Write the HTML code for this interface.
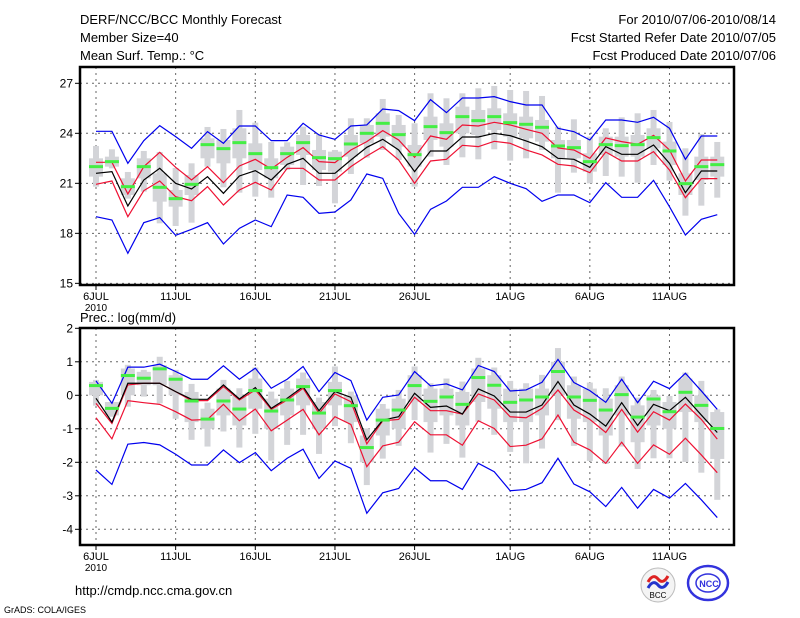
<!DOCTYPE html>
<html><head><meta charset="utf-8"><style>
body{margin:0;background:#fff}
svg{display:block}
text{font-family:"Liberation Sans",sans-serif;fill:#000}
</style></head><body>
<svg id="c" width="800" height="618" xmlns="http://www.w3.org/2000/svg">
<text x="80" y="24" font-size="13">DERF/NCC/BCC Monthly Forecast</text>
<text x="80" y="42" font-size="13">Member Size=40</text>
<text x="80" y="60" font-size="13">Mean Surf. Temp.: °C</text>
<text x="776" y="24" font-size="13" text-anchor="end">For 2010/07/06-2010/08/14</text>
<text x="776" y="42" font-size="13" text-anchor="end">Fcst Started Refer Date 2010/07/05</text>
<text x="776" y="60" font-size="13" text-anchor="end">Fcst Produced Date 2010/07/06</text>
<text x="80" y="322" font-size="13">Prec.: log(mm/d)</text>
<text x="75" y="595" font-size="13">http://cmdp.ncc.cma.gov.cn</text>
<text x="4" y="613" font-size="9">GrADS: COLA/IGES</text>
<g>
<circle cx="658" cy="585" r="17" fill="#f4f4f4" stroke="#bbb"/>
<path d="M648 582 q5 -9 10 -3 q5 6 10 -3" stroke="#d22" stroke-width="3" fill="none"/>
<path d="M648 588 q5 -9 10 -3 q5 6 10 -3" stroke="#23c" stroke-width="3" fill="none"/>
<text x="658" y="598" font-size="8" text-anchor="middle" font-family="Liberation Serif">BCC</text>
</g>
<g>
<ellipse cx="708" cy="583" rx="20" ry="17" fill="none" stroke="#33d" stroke-width="2.5"/>
<ellipse cx="708" cy="583" rx="12" ry="9" fill="none" stroke="#33d" stroke-width="1.5"/>
<text x="709" y="587" font-size="9" text-anchor="middle" font-weight="bold" style="fill:#33d">NCC</text>
</g>
</svg>
<script>
const days=["6JUL","11JUL","16JUL","21JUL","26JUL","1AUG","6AUG","11AUG"];
const dayIdx=[0,5,10,15,20,26,31,36];
const tTicks=[15,18,21,24,27];
const pTicks=[-4,-3,-2,-1,0,1,2];
const tBlueHi=[24.12,24.12,22.2,23.56,24.46,23.8,23.1,24.1,23.4,24.44,24.44,23.56,23.56,24.6,23.9,23.64,24.44,24.5,25.46,25.36,24.76,26.02,25.24,26.12,26.12,26.2,25.9,25.7,25.7,24.3,24.1,23.6,24.8,24.8,24.66,24.96,24.3,22.44,23.84,23.84];
const tBlueLo=[19.0,18.8,16.8,18.64,18.94,17.88,18.24,18.64,17.36,18.3,18.8,18.4,20.3,20.16,19.2,19.28,20.0,21.56,21.3,19.2,17.94,19.44,19.94,20.76,20.76,21.4,21.0,20.68,19.92,20.3,20.3,19.84,21.04,20.16,20.16,21.18,19.6,17.9,18.84,19.12];
const tRedHi=[22.26,22.26,20.36,22.0,22.86,21.96,21.2,22.0,21.04,22.04,22.44,21.86,22.56,23.14,22.3,22.24,23.0,23.5,24.16,23.6,22.56,23.84,23.64,24.5,24.44,24.66,24.5,24.24,24.0,23.12,23.0,22.5,23.72,23.5,23.34,23.88,23.0,21.14,22.4,22.4];
const tRedLo=[20.94,21.14,19.0,20.56,21.14,20.2,19.96,20.8,19.7,20.6,21.06,20.6,21.9,21.9,21.2,21.2,22.0,22.64,23.2,22.4,21.0,22.34,22.44,23.28,23.2,23.52,23.4,23.0,22.7,22.14,22.04,21.64,22.88,22.34,22.34,22.9,21.8,20.14,21.28,21.28];
const tMean=[21.6,21.7,19.64,21.2,21.9,21.0,20.66,21.4,20.4,21.44,21.76,21.2,22.14,22.5,21.6,21.6,22.4,23.16,23.64,23.0,21.7,22.94,22.94,23.78,23.78,24.0,23.86,23.54,23.2,22.5,22.44,21.96,23.2,22.74,22.74,23.3,22.2,20.44,21.74,21.74];
const tMedian=[22.0,22.3,20.8,22.0,20.76,20.08,20.94,23.32,23.08,23.44,22.78,21.94,22.78,23.44,22.54,22.48,23.36,24.0,24.6,23.92,22.72,24.4,24.04,25.0,24.76,25.0,24.64,24.54,24.36,23.24,23.14,22.3,23.32,23.26,23.32,23.74,22.94,20.98,22.0,22.12];
const tMax=[23.24,23.04,21.68,22.94,22.88,21.92,22.2,24.38,24.26,25.4,24.64,23.48,23.46,24.4,23.96,23.0,24.9,24.9,26.06,25.1,24.6,26.4,26.1,26.4,26.7,26.84,26.6,26.54,26.24,24.4,24.84,23.8,24.3,24.96,25.2,25.4,24.68,23.1,23.96,23.48];
const tMin=[20.8,21.9,20.08,20.5,18.6,18.44,18.64,22.0,20.76,20.44,20.2,20.14,21.8,20.9,20.84,19.8,21.56,22.54,23.0,22.4,20.8,22.6,22.1,22.56,22.44,23.04,22.36,22.5,23.0,20.44,21.64,21.0,21.44,21.4,21.04,22.1,21.16,19.06,19.66,20.14];
const tQ3=[22.5,22.6,21.3,22.5,21.6,20.6,21.5,23.7,23.6,24.3,23.4,22.5,23.2,23.9,23.0,22.9,23.9,24.5,25.2,24.5,23.3,25.0,24.6,25.6,25.4,25.5,25.2,25.0,24.8,23.6,23.6,22.8,23.8,23.8,23.9,24.3,23.5,21.6,22.6,22.6];
const tQ1=[21.4,22.0,20.3,21.3,19.9,19.6,20.3,22.5,22.2,22.5,21.8,21.3,22.1,22.7,21.8,21.7,22.6,23.4,23.8,23.2,22.0,23.6,23.2,24.0,23.9,24.2,23.8,23.7,23.5,22.5,22.5,21.7,22.7,22.6,22.6,23.1,22.1,20.3,21.2,21.4];
const pBlueHi=[0.43,-0.24,0.84,0.84,0.93,0.71,0.48,0.48,0.88,0.48,0.81,0.21,0.48,0.86,0.11,0.68,0.44,-0.74,-0.06,0.01,0.71,0.28,0.34,0.16,0.89,0.71,0.13,0.16,0.39,1.07,0.38,0.14,-0.21,0.48,-0.22,0.42,0.2,0.66,0.13,-0.42];
const pBlueLo=[-2.23,-2.66,-1.46,-1.41,-1.48,-1.76,-2.08,-2.08,-1.63,-2.01,-1.71,-2.25,-1.88,-1.61,-2.48,-1.96,-2.18,-3.52,-2.91,-2.78,-2.16,-2.55,-2.55,-2.81,-2.03,-2.28,-2.85,-2.81,-2.61,-1.88,-2.65,-2.88,-3.32,-2.75,-3.37,-2.81,-3.07,-2.63,-3.12,-3.65];
const pRedHi=[-0.24,-0.84,0.31,0.36,0.36,0.11,-0.16,-0.16,0.26,-0.14,0.16,-0.42,-0.14,0.21,-0.54,0.04,-0.19,-1.45,-0.76,-0.72,-0.06,-0.46,-0.46,-0.56,0.04,-0.14,-0.64,-0.67,-0.39,0.16,-0.44,-0.72,-1.11,-0.42,-1.1,-0.49,-0.74,-0.26,-0.72,-1.31];
const pRedLo=[-0.67,-1.3,-0.16,-0.22,-0.27,-0.49,-0.74,-0.72,-0.27,-0.76,-0.41,-1.06,-0.74,-0.42,-1.18,-0.64,-0.87,-2.13,-1.51,-1.4,-0.79,-1.18,-1.18,-1.49,-0.76,-0.99,-1.53,-1.49,-1.3,-0.59,-1.4,-1.63,-2.03,-1.4,-2.03,-1.48,-1.76,-1.28,-1.78,-2.31];
const pMean=[-0.09,-0.8,0.36,0.36,0.36,0.11,-0.12,-0.12,0.31,-0.11,0.23,-0.39,-0.09,0.26,-0.46,0.11,-0.06,-1.33,-0.74,-0.64,0.06,-0.36,-0.32,-0.56,0.19,-0.02,-0.5,-0.5,-0.29,0.41,-0.29,-0.56,-0.92,-0.22,-0.9,-0.27,-0.46,-0.06,-0.59,-1.11];
const pMedian=[0.29,-0.39,0.59,0.51,0.79,0.48,-0.17,-0.71,-0.17,-0.41,0.14,-0.47,-0.14,0.26,-0.53,0.14,-0.31,-1.56,-0.74,-0.44,0.29,-0.18,-0.05,-0.27,0.53,0.3,-0.21,-0.14,-0.05,0.71,-0.05,-0.15,-0.44,0.02,-0.65,-0.11,-0.49,0.09,-0.3,-0.99];
const pMax=[0.46,-0.29,0.91,0.76,1.15,0.76,0.34,-0.22,0.46,0.21,0.83,0.11,0.43,0.68,-0.07,0.86,0.11,-0.99,-0.26,0.16,0.86,0.36,0.5,0.41,1.12,0.83,0.43,0.36,0.61,1.41,0.56,0.38,0.21,0.56,-0.07,0.16,-0.02,0.68,0.43,-0.42];
const pMin=[-0.31,-0.64,-0.34,-0.04,-0.24,-0.7,-1.33,-1.53,-1.08,-1.56,-1.15,-1.95,-1.48,-1.18,-1.75,-0.92,-1.43,-2.68,-1.89,-1.51,-0.74,-1.71,-1.45,-1.86,-0.79,-1.18,-1.69,-2.03,-1.59,-0.74,-1.51,-1.96,-2.05,-1.53,-2.2,-1.88,-1.88,-1.99,-2.31,-3.12];
const pQ3=[0.4,-0.2,0.8,0.7,0.9,0.6,0.1,-0.4,0.2,0.0,0.5,-0.1,0.2,0.5,-0.2,0.4,0.0,-1.2,-0.4,-0.1,0.6,0.2,0.2,0.1,0.8,0.6,0.2,0.2,0.2,1.0,0.3,0.2,-0.1,0.3,-0.3,0.0,-0.2,0.5,0.0,-0.5];
const pQ1=[0.0,-0.6,0.0,0.3,0.3,0.0,-0.8,-1.0,-0.6,-0.9,-0.4,-1.0,-0.6,-0.3,-1.0,-0.3,-0.8,-2.0,-1.2,-1.0,-0.2,-0.8,-0.6,-0.9,-0.2,-0.4,-0.8,-0.8,-0.6,0.0,-0.7,-0.8,-1.2,-0.6,-1.4,-0.9,-1.0,-0.5,-0.8,-1.9];

const svg=document.getElementById('c');
const NS="http://www.w3.org/2000/svg";
function mk(tag,attrs,parent){const e=document.createElementNS(NS,tag);for(const k in attrs)e.setAttribute(k,attrs[k]);(parent||svg).appendChild(e);return e;}
const xs=d=>96+15.93*d;
function draw(cfg){
  const g=mk('g',{});
  
  
  const y=v=>cfg.y0+(cfg.v0-v)*cfg.k;
  cfg.ticks.forEach(t=>{const yy=y(t);
    const gl=mk('line',{x1:80,x2:734,y1:yy,y2:yy,stroke:'#666','stroke-dasharray':'2,4','stroke-width':1},g);
    
    const tk=mk('line',{x1:75,x2:80,y1:yy,y2:yy,stroke:'#000'},g);
    
    const tl=mk('text',{x:73,y:yy+4,'font-size':12,'text-anchor':'end'},g);tl.textContent=t;
    
  });
  dayIdx.forEach((d,i)=>{const xx=xs(d);
    const gl=mk('line',{x1:xx,x2:xx,y1:cfg.top,y2:cfg.bottom,stroke:'#666','stroke-dasharray':'2,4'},g);
    
    const tk=mk('line',{x1:xx,x2:xx,y1:cfg.bottom,y2:cfg.bottom+5,stroke:'#000'},g);
    
    const tl=mk('text',{x:xx,y:cfg.bottom+15,'font-size':11,'text-anchor':'middle'},g);tl.textContent=days[i];
    
  });
  const yr=mk('text',{x:xs(0),y:cfg.bottom+26,'font-size':10,'text-anchor':'middle'},g);yr.textContent='2010';
  
  cfg.max.forEach((mx,d)=>{const xx=xs(d);
    const w=mk('rect',{x:xx-3,y:y(mx),width:6,height:y(cfg.min[d])-y(mx),fill:'#d3d4d8'},g);
    
    const b=mk('rect',{x:xx-7,y:y(cfg.q3[d]),width:14,height:y(cfg.q1[d])-y(cfg.q3[d]),fill:'#d3d4d8'},g);
    
  });
  const line=(arr,col,nm)=>{const p=mk('polyline',{points:arr.map((v,d)=>xs(d)+','+y(v)).join(' '),fill:'none',stroke:col,'stroke-width':1.2},g);
    };
  line(cfg.blueHi,'#0000ee','upper-extreme-line');line(cfg.blueLo,'#0000ee','lower-extreme-line');
  line(cfg.redHi,'#ee1133','upper-spread-line');line(cfg.redLo,'#ee1133','lower-spread-line');
  line(cfg.mean,'#000','ensemble-mean-line');
  cfg.med.forEach((v,d)=>{const m=mk('rect',{x:xs(d)-7,y:y(v)-1.5,width:14,height:3,fill:'#44ee44'},g);
    });
  const fr=mk('rect',{x:80,y:cfg.top,width:654,height:cfg.bottom-cfg.top,fill:'none',stroke:'#000','stroke-width':2.5},g);
  
}
draw({name:'temperature-panel',top:67,bottom:285,y0:83.3,v0:27,k:16.67,ticks:tTicks,
  blueHi:tBlueHi,blueLo:tBlueLo,redHi:tRedHi,redLo:tRedLo,mean:tMean,med:tMedian,max:tMax,min:tMin,q3:tQ3,q1:tQ1});
draw({name:'precip-panel',top:328,bottom:545,y0:395.3,v0:0,k:33.5,ticks:pTicks,
  blueHi:pBlueHi,blueLo:pBlueLo,redHi:pRedHi,redLo:pRedLo,mean:pMean,med:pMedian,max:pMax,min:pMin,q3:pQ3,q1:pQ1});
</script>
</body></html>
